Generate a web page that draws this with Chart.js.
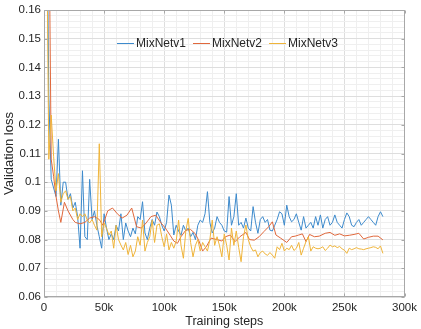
<!DOCTYPE html>
<html>
<head>
<meta charset="utf-8">
<script src="https://cdn.jsdelivr.net/npm/chart.js@4.4.0/dist/chart.umd.min.js"></script>
<style>
html,body{margin:0;padding:0;background:#fff;}
#wrap{width:421px;height:329px;position:relative;}
</style>
</head>
<body>
<div id="wrap"><canvas id="c" width="421" height="329"></canvas></div>
<script>
// Training steps (thousands) shared by MixNetv1 and MixNetv3
const stepsA = [0,2,4,6,8,10,12,14,16,18,20,22,24,26,28,30,32,34,36,38,40,42,44,46,48,50,52,54,56,58,60,62,64,66,68,70,72,74,76,78,80,82,84,86,88,90,92,94,96,98,100,102,104,106,108,110,112,114,116,118,120,122,124,126,128,130,132,134,136,138,140,142,144,146,148,150,152,154,156,158,160,162,164,166,168,170,172,174,176,178,180,182,184,186,188,190,192,194,196,198,200,202,204,206,208,210,212,214,216,218,220,222,224,226,228,230,232,234,236,238,240,242,244,246,248,250,252,254,256,258,260,262,264,266,268,270,272,274,276,278,280,282];
const mixNetV1 = [0.30,0.22,0.13,0.101,0.098,0.095,0.115,0.092,0.100,0.100,0.094,0.096,0.091,0.093,0.088,0.077,0.104,0.081,0.080,0.101,0.087,0.090,0.085,0.081,0.077,0.089,0.084,0.080,0.082,0.080,0.085,0.083,0.089,0.080,0.0858,0.083,0.081,0.084,0.082,0.088,0.087,0.0932,0.0823,0.080,0.084,0.087,0.085,0.0896,0.088,0.085,0.083,0.086,0.0955,0.092,0.0816,0.085,0.083,0.0815,0.085,0.083,0.084,0.081,0.0825,0.080,0.085,0.0868,0.086,0.089,0.0967,0.086,0.0823,0.084,0.088,0.086,0.085,0.083,0.0826,0.095,0.085,0.088,0.096,0.085,0.086,0.084,0.0875,0.084,0.083,0.0915,0.086,0.0822,0.087,0.088,0.086,0.087,0.0833,0.083,0.085,0.087,0.0897,0.089,0.085,0.092,0.088,0.0862,0.087,0.089,0.086,0.0833,0.088,0.084,0.085,0.086,0.084,0.088,0.085,0.0886,0.084,0.087,0.088,0.085,0.086,0.0886,0.086,0.085,0.084,0.087,0.0893,0.088,0.085,0.0845,0.086,0.087,0.085,0.086,0.087,0.088,0.087,0.086,0.085,0.088,0.0897,0.088];
const mixNetV3 = [0.30,0.20,0.108,0.1234,0.109,0.097,0.103,0.093,0.096,0.097,0.094,0.095,0.090,0.091,0.087,0.089,0.088,0.089,0.0868,0.0858,0.087,0.085,0.0833,0.1134,0.081,0.0858,0.084,0.0816,0.083,0.077,0.085,0.080,0.0781,0.0764,0.079,0.0748,0.078,0.074,0.076,0.081,0.078,0.0868,0.076,0.079,0.081,0.0868,0.079,0.085,0.0855,0.081,0.0775,0.082,0.0764,0.079,0.077,0.0795,0.0868,0.078,0.0735,0.083,0.0874,0.079,0.074,0.078,0.080,0.076,0.079,0.0775,0.076,0.080,0.0868,0.078,0.081,0.078,0.074,0.082,0.078,0.0729,0.084,0.078,0.083,0.0773,0.0723,0.081,0.0851,0.080,0.0775,0.076,0.0764,0.074,0.0755,0.076,0.075,0.0745,0.0755,0.0746,0.0735,0.0775,0.0765,0.0787,0.076,0.077,0.0765,0.078,0.0762,0.077,0.079,0.0746,0.077,0.0793,0.081,0.076,0.0775,0.077,0.0768,0.077,0.0775,0.0762,0.077,0.0781,0.0775,0.0778,0.0772,0.0776,0.0768,0.0763,0.0752,0.077,0.0765,0.0768,0.0772,0.0768,0.0767,0.0765,0.0768,0.077,0.0772,0.0775,0.0773,0.0768,0.0778,0.0752];
// MixNetv2 is logged at its own steps (thousands)
const stepsB = [0,4,6,8,10,12,14,17,20,24,26,30,34,38,42,46,49,53,57,61,65,69,73,77,81,85,89,93,97,101,105,108,111,114,118,122,126,129,132,135,139,144,148,151,155,159,163,168,171,175,179,183,187,190,193,197,202,206,209,212,215,218,221,225,229,234,238,242,246,250,254,258,262,266,270,274,278,282];
const mixNetV2 = [0.30,0.20,0.108,0.102,0.095,0.090,0.086,0.093,0.090,0.087,0.086,0.0855,0.086,0.0875,0.088,0.087,0.085,0.090,0.091,0.089,0.0875,0.0885,0.091,0.0845,0.084,0.0858,0.088,0.0885,0.086,0.084,0.0815,0.0795,0.0787,0.081,0.0833,0.0835,0.082,0.0795,0.076,0.0775,0.0805,0.080,0.0795,0.081,0.0816,0.0793,0.081,0.0825,0.080,0.0798,0.081,0.0828,0.0845,0.0862,0.0816,0.0805,0.079,0.081,0.0812,0.0816,0.082,0.0793,0.0818,0.081,0.0812,0.0822,0.0825,0.0815,0.082,0.0813,0.0815,0.0818,0.0822,0.0802,0.0808,0.0812,0.0812,0.0799];
const seriesNames = ['MixNetv1','MixNetv2','MixNetv3'];
const xTickMajors = [0,50,100,150,200,250,300];
const yTickMajors = [0.06,0.07,0.08,0.09,0.1,0.11,0.12,0.13,0.14,0.15,0.16];

const COLORS = ['#3d8acc','#e0683c','#efb43a'];
const FONT = 'Liberation Sans, Arial, Helvetica, sans-serif';
const TXT = '#262626';
const AXC = '#a8a8a8';

function pts(xs, ys){ return xs.map((x,i)=>({x:x, y:ys[i]})); }
function isMajorY(v){ return Math.abs(v*100 - Math.round(v*100)) < 1e-6; }
function isMajorX(v){ return Math.abs(v/50 - Math.round(v/50)) < 1e-6; }

const boxPlugin = {
  id:'boxPlugin',
  afterDraw(chart){
    const {ctx, chartArea:a, scales:{x, y}} = chart;
    ctx.save();
    ctx.strokeStyle = AXC;
    ctx.lineWidth = 1;
    const L = Math.round(a.left)+0.5, R = Math.round(a.right)-0.5, T = Math.round(a.top)+0.5, B = Math.round(a.bottom)-0.5;
    ctx.strokeRect(L, T, R-L, B-T);
    ctx.beginPath();
    xTickMajors.forEach(v=>{
      const p = Math.round(x.getPixelForValue(v))+0.5;
      ctx.moveTo(p, B); ctx.lineTo(p, B-3);
      ctx.moveTo(p, T); ctx.lineTo(p, T+3);
    });
    yTickMajors.forEach(v=>{
      const p = Math.round(y.getPixelForValue(v))+0.5;
      ctx.moveTo(L, p); ctx.lineTo(L+3, p);
      ctx.moveTo(R, p); ctx.lineTo(R-3, p);
    });
    ctx.stroke();
    // legend (inside the axes, no box)
    ctx.font = '12px ' + FONT;
    ctx.textBaseline = 'middle';
    ctx.fillStyle = TXT;
    let cx = 117; const cy = 43.5;
    chart.data.datasets.slice().sort((p,q)=>seriesNames.indexOf(p.label)-seriesNames.indexOf(q.label)).forEach(ds=>{
      ctx.strokeStyle = ds.borderColor;
      ctx.lineWidth = 1;
      ctx.beginPath(); ctx.moveTo(cx, cy); ctx.lineTo(cx+17, cy); ctx.stroke();
      cx += 19;
      ctx.fillText(ds.label, cx, cy+0.5);
      cx += ctx.measureText(ds.label).width + 7;
    });
    ctx.restore();
  }
};

new Chart(document.getElementById('c'), {
  type:'line',
  data:{
    datasets:[
      {label:seriesNames[0], data:pts(stepsA, mixNetV1), borderColor:COLORS[0], borderWidth:1, pointRadius:0, tension:0, order:2},
      {label:seriesNames[1], data:pts(stepsB, mixNetV2), borderColor:COLORS[1], borderWidth:1, pointRadius:0, tension:0, order:1},
      {label:seriesNames[2], data:pts(stepsA, mixNetV3), borderColor:COLORS[2], borderWidth:1, pointRadius:0, tension:0, order:0}
    ]
  },
  options:{
    responsive:false,
    animation:false,
    events:[],
    layout:{padding:{left:0, top:10, right:13, bottom:0}},
    plugins:{legend:{display:false}, tooltip:{enabled:false}, title:{display:false}},
    scales:{
      x:{
        type:'linear', min:0, max:300,
        afterFit(s){ s.height = 32; },
        ticks:{stepSize:10, autoSkip:false, maxRotation:0, padding:4, color:TXT, font:{family:FONT, size:11.5},
          callback:(v)=> isMajorX(v) ? (v===0 ? '0' : Math.round(v)+'k') : ''},
        grid:{drawTicks:false, lineWidth:1, color:(c)=> isMajorX(c.tick.value) ? '#dedede' : '#efefef'},
        border:{display:false},
        title:{display:true, text:'Training steps', color:TXT, font:{family:FONT, size:12.5}, padding:{top:0, bottom:0}}
      },
      y:{
        type:'linear', min:0.06, max:0.16,
        afterFit(s){ s.width = 44; },
        ticks:{stepSize:0.002, autoSkip:false, padding:3, color:TXT, font:{family:FONT, size:11.5},
          callback:(v)=> isMajorY(v) ? String(+v.toFixed(2)) : ''},
        grid:{drawTicks:false, lineWidth:1, color:(c)=> isMajorY(c.tick.value) ? '#dedede' : '#efefef'},
        border:{display:false},
        title:{display:true, text:'Validation loss', color:TXT, font:{family:FONT, size:13}, padding:{top:2, bottom:0}}
      }
    }
  },
  plugins:[boxPlugin]
});
</script>
</body>
</html>
